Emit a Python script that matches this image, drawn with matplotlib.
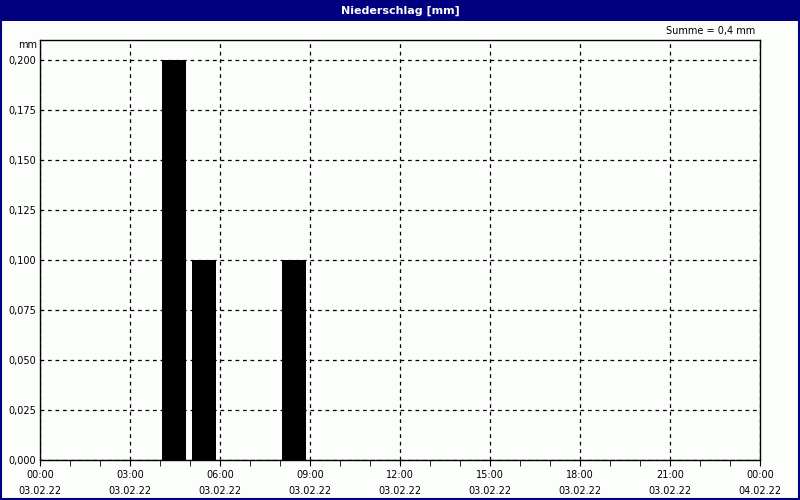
import matplotlib.pyplot as plt
from matplotlib.patches import Rectangle

# hourly precipitation, 03.02.22
hours = [4, 5, 8]
precip = [0.2, 0.1, 0.1]
ytick_vals = [0, 0.025, 0.05, 0.075, 0.1, 0.125, 0.15, 0.175, 0.2]
xtick_hours = [0, 3, 6, 9, 12, 15, 18, 21, 24]
xtick_labels = ["00:00\n03.02.22", "03:00\n03.02.22", "06:00\n03.02.22",
                "09:00\n03.02.22", "12:00\n03.02.22", "15:00\n03.02.22",
                "18:00\n03.02.22", "21:00\n03.02.22", "00:00\n04.02.22"]
navy = "#000080"

fig = plt.figure(figsize=(8, 5), dpi=100, facecolor="#fcfefc")
ax = fig.add_axes([0.05, 0.08, 0.90, 0.84])
ax.set_facecolor("#fcfefc")

ax.bar([h + 0.47 for h in hours], precip, width=0.8, color="black", zorder=3)

ax.set_xlim(0, 24)
ax.set_ylim(0, 0.21)
ax.set_yticks(ytick_vals)
ax.set_yticklabels([f"{v:.3f}".replace(".", ",") for v in ytick_vals], fontsize=7)
ax.set_xticks(xtick_hours)
ax.set_xticklabels(xtick_labels, fontsize=7, linespacing=1.75)
ax.set_xticks(range(25), minor=True)
ax.tick_params(axis="y", length=0, pad=3)
ax.tick_params(axis="x", which="both", length=4, pad=3)
ax.grid(True, color="black", linestyle=(0, (3, 3)), linewidth=0.9)
ax.set_axisbelow(False)
for s in ax.spines.values():
    s.set_linewidth(1.0)

ax.text(-0.1, 0.2075, "mm", fontsize=7, ha="right", va="center",
        transform=ax.transData)
fig.text(0.944, 0.938, "Summe = 0,4 mm", fontsize=7, ha="right", va="center")

# title bar and frame
fig.patches.append(Rectangle((0, 0.958), 1, 0.042, transform=fig.transFigure,
                             facecolor=navy, edgecolor="none", zorder=0))
fig.patches.append(Rectangle((0.001, 0.002), 0.998, 0.996, transform=fig.transFigure,
                             facecolor="none", edgecolor=navy, linewidth=1.5))
fig.text(0.5, 0.979, "Niederschlag [mm]", color="white", fontsize=8,
         fontweight="bold", ha="center", va="center")

fig.savefig("out.png", dpi=100, facecolor=fig.get_facecolor())
